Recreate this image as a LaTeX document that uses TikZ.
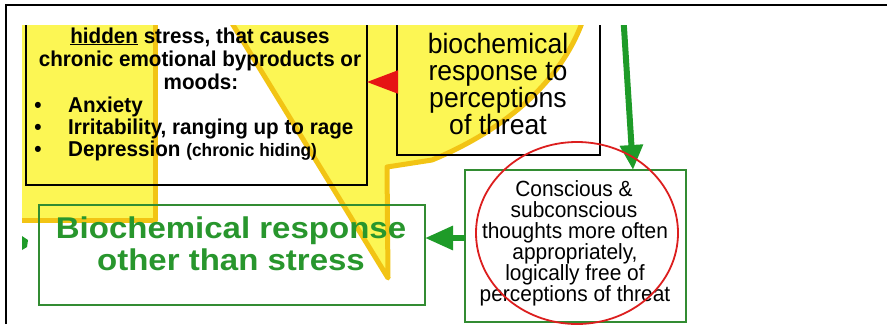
\documentclass[tikz,border=0pt]{standalone}
\usepackage{fontspec}
\setmainfont{Liberation Sans}
\newfontfamily\widefont[FakeStretch=1.1]{Liberation Sans}
\newfontfamily\condfont[FakeStretch=0.95]{Liberation Sans}
\newfontfamily\leftfont[FakeStretch=0.96]{Liberation Sans}
\usetikzlibrary{arrows.meta}
\definecolor{sunfill}{RGB}{252,246,84}
\definecolor{sunedge}{RGB}{242,196,20}
\definecolor{gtext}{RGB}{40,150,45}
\definecolor{gline}{RGB}{50,140,50}
\definecolor{garrow}{RGB}{30,155,40}
\definecolor{rarrow}{RGB}{230,20,20}
\definecolor{rring}{RGB}{220,30,30}
\begin{document}
\begin{tikzpicture}[x=1pt,y=-1pt,
  blackbox/.style={draw=black,line width=2.8pt,inner sep=0pt,outer sep=0pt},
  greenbox/.style={draw=gline,line width=2.8pt,inner sep=0pt,outer sep=0pt},
  ltxt/.style={font=\fontsize{21.5}{22}\leftfont\bfseries,inner sep=0pt,anchor=base},
  rtxt/.style={font=\fontsize{28}{27}\condfont,inner sep=0pt,anchor=base},
  ctxt/.style={font=\fontsize{22}{21}\condfont,inner sep=0pt,anchor=base},
  gtxt/.style={font=\fontsize{30}{32}\widefont\bfseries,text=gtext,inner sep=0pt,anchor=base},
  sunline/.style={draw=sunedge,line width=5pt,line join=round},
  redarr/.style={draw=rarrow,fill=rarrow,line width=2pt,-{Triangle[length=31pt,width=23pt]}},
  grnarr/.style={draw=garrow,fill=garrow,line width=6pt,-{Triangle[length=25pt,width=22pt]}},
  grnarrb/.style={draw=garrow,fill=garrow,line width=6pt,-{Triangle[length=28pt,width=23pt]}}]
\useasboundingbox (0,0) rectangle (890,324);
% outer frame
\draw[line width=2pt] (6,324) -- (6,5) -- (887,5);
\begin{scope}
\clip (22,25) rectangle (700,324);
% yellow burst background
\fill[sunfill] (15,20) -- (155,20) -- (155,220) -- (15,220) -- cycle;
\fill[sunfill] (230,20) -- (388,278) -- (387,167) -- (432,160)
   .. controls (500,132) and (560,85) .. (583,20) -- cycle;
\draw[sunline] (155,20) -- (155,220) -- (15,220);
\draw[sunline] (230,20) -- (388,278) -- (387,167) -- (432,160)
   .. controls (500,132) and (560,85) .. (583,20);
% boxes
\node[blackbox,minimum width=341pt,minimum height=200pt] (lbox) at (196.5,85) {};
\node[blackbox,minimum width=203pt,minimum height=175pt] (rbox) at (498.5,67.5) {};
\node[greenbox,minimum width=221pt,minimum height=152pt] (gbox) at (575.5,246) {};
\node[greenbox,minimum width=386pt,minimum height=100pt] (lgbox) at (232,255) {};
% left box text
\node[ltxt] (l1) at (200,43) {\underline{hidden} stress, that causes};
\node[ltxt] (l2) at (200,66) {chronic emotional byproducts or};
\node[ltxt] (l3) at (201,89) {moods:};
\node[ltxt] (b1) at (38,112) {•};
\node[ltxt] (b2) at (38,134) {•};
\node[ltxt] (b3) at (38,156) {•};
\node[ltxt,anchor=base west] (l4) at (68,112) {Anxiety};
\node[ltxt,anchor=base west] (l5) at (68,134) {Irritability, ranging up to rage};
\node[ltxt,anchor=base west] (l6) at (68,156) {Depression {\fontsize{18}{18}\selectfont (chronic hiding)}};
% right black box text
\node[rtxt] (r1) at (498,53) {biochemical};
\node[rtxt] (r2) at (498,80) {response to};
\node[rtxt] (r3) at (498,107) {perceptions};
\node[rtxt] (r4) at (498,134) {of threat};
% green right box text
\node[ctxt] (c1) at (574,196) {Conscious \&};
\node[ctxt] (c2) at (574,217) {subconscious};
\node[ctxt] (c3) at (575,238) {thoughts more often};
\node[ctxt] (c4) at (575,259) {appropriately,};
\node[ctxt] (c5) at (575,280) {logically free of};
\node[ctxt] (c6) at (575,301) {perceptions of threat};
% green left box text
\node[gtxt] (g1) at (231,238) {Biochemical response};
\node[gtxt] (g2) at (231,270) {other than stress};
% connectors
\coordinate (ry) at (0,82);
\draw[redarr] (rbox.west |- ry) -- (lbox.east |- ry);
\coordinate (gtop) at (623,12);
\coordinate (gx) at (633,0);
\draw[grnarr] (gtop) -- (gbox.north -| gx);
\coordinate (gy) at (0,238);
\draw[grnarrb] (gbox.west |- gy) -- (lgbox.east |- gy);
\fill[garrow] (22,236) -- (28,240) -- (27,247) -- (22,250) -- cycle;
% red ring
\draw[rring,line width=1.8pt] (577,233) ellipse [x radius=101, y radius=91];
\end{scope}
\end{tikzpicture}
\end{document}
